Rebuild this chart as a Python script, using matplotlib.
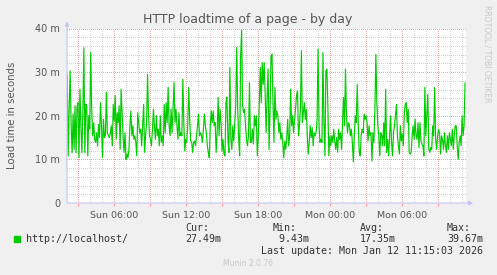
import numpy as np
import matplotlib
matplotlib.use('Agg')
from matplotlib import pyplot as plt
from matplotlib.patches import Rectangle

# http load time in milliseconds (roughly every 5 min), Sun ~02:06 .. Mon 11:15
load_ms = [
    29.3, 10.8, 22.0, 30.3, 18.0, 11.5, 20.4, 12.3, 22.3, 11.5, 21.9, 23.0, 10.4, 26.1, 17.7,
    11.5, 21.5, 35.6, 11.5, 22.7, 22.0, 10.8, 20.0, 17.0, 34.5, 21.5, 15.4, 18.4, 14.5, 13.9,
    16.1, 13.0, 18.0, 15.0, 23.0, 17.5, 10.4, 19.2, 15.0, 15.5, 25.4, 16.0, 15.5, 15.0, 16.0,
    17.7, 13.1, 22.6, 18.8, 24.6, 14.6, 20.7, 18.4, 22.3, 12.3, 26.1, 20.7, 15.4, 11.6, 16.1,
    10.0, 11.2, 10.4, 12.3, 17.7, 21.1, 15.4, 17.7, 14.6, 15.4, 13.9, 10.8, 20.7, 18.4, 16.1,
    16.9, 13.1, 17.7, 22.6, 11.6, 15.4, 18.4, 29.5, 20.0, 15.4, 14.6, 13.1, 16.9, 21.5, 17.7,
    14.6, 20.0, 15.4, 16.9, 13.1, 20.0, 13.9,
    15.4, 13.1, 22.6, 16.1, 23.0, 18.4, 26.5, 17.7, 15.4, 21.5, 16.1, 21.5, 27.6, 18.4, 21.5,
    17.7, 14.6, 20.7, 15.4, 16.1, 15.4, 28.4, 18.4, 11.9, 14.6, 13.9, 17.7, 26.5, 19.2, 14.2,
    13.9, 11.6, 13.9, 14.2, 13.1, 15.4, 17.7, 20.4, 15.4, 16.1, 15.4, 13.9, 16.9, 20.4, 17.7,
    16.1, 13.1, 11.6, 10.4, 17.7, 21.1, 18.4,
    21.1, 17.7, 18.4, 11.6, 16.1, 24.2, 15.4, 21.5, 18.4, 11.9, 14.6, 11.2, 10.8, 23.0, 24.2,
    14.6, 11.6, 31.1, 14.6, 12.3, 17.7, 14.2, 18.1, 22.3, 35.6, 21.5, 14.6, 10.8, 33.7, 39.67,
    22.3, 20.7, 21.5, 17.7, 14.6, 13.1, 15.4, 27.6, 13.9, 13.9, 16.9, 13.5, 20.0, 17.7, 20.0,
    10.8, 15.4, 22.3, 31.1, 23.0, 32.2, 27.2,
    32.2, 25.3, 16.1, 24.6, 30.7, 12.3, 21.5, 33.7, 34.1, 23.0, 13.9, 26.5, 19.2, 21.1, 20.0,
    16.1, 18.4, 14.6, 16.1, 13.9, 10.4, 14.2, 12.3, 14.6, 19.2, 13.1, 15.4, 26.1, 17.7, 20.0,
    16.1, 19.2, 21.5, 24.6, 25.7, 15.4, 17.7, 21.5, 34.9, 18.4, 20.7, 23.0, 19.2, 21.5, 15.4,
    11.2, 13.9, 17.7, 15.0, 17.3, 13.1, 16.1,
    15.4, 16.1, 19.2, 35.3, 17.7, 13.9, 14.6, 13.9, 34.5, 18.4, 10.8, 30.3, 30.7, 22.3, 10.8,
    15.4, 13.1, 15.4, 13.9, 16.9, 14.2, 12.3, 15.0, 11.6, 16.9, 14.6, 16.1, 12.3, 18.4, 24.2,
    17.7, 30.7, 20.0, 16.1, 18.4, 17.7, 15.4, 16.9, 13.9, 9.43, 15.4, 20.0, 18.4, 27.2, 18.4,
    11.6, 10.8, 15.4, 16.9, 16.1, 20.4, 19.2,
    20.0, 18.4, 14.2, 17.7, 15.4, 16.1, 9.6, 16.1, 13.9, 21.5, 34.1, 23.0, 17.7, 15.4, 10.8,
    16.1, 15.4, 13.1, 18.4, 13.1, 26.1, 11.6, 14.6, 10.8, 15.4, 20.0, 13.9, 10.8, 16.1, 17.7,
    20.0, 22.6, 15.4, 13.1, 11.2, 17.7, 14.2, 15.8, 13.1, 20.7, 22.6, 23.0, 18.4, 21.5, 11.6,
    11.2, 11.6, 15.4, 17.7, 14.6, 19.2, 15.4,
    14.6, 18.4, 12.7, 18.4, 14.2, 13.5, 13.1, 10.8, 26.5, 15.4, 20.0, 24.9, 12.3, 11.6, 12.7,
    12.3, 17.7, 15.4, 26.5, 14.6, 12.3, 15.4, 16.9, 16.1, 11.2, 15.4, 14.6, 12.3, 16.1, 13.1,
    11.6, 15.4, 12.3, 16.1, 14.6, 13.1, 16.9, 12.3, 15.4, 17.7, 17.7, 13.1, 10.0, 13.9, 15.4,
    13.1, 20.0, 15.4, 17.7, 27.49,
]
t_start, t_end = 2.1, 35.25  # hours since Sun 00:00
x_ticks = [6, 12, 18, 24, 30]
x_labels = ['Sun 06:00', 'Sun 12:00', 'Sun 18:00', 'Mon 00:00', 'Mon 06:00']
y_ticks = [0, 10, 20, 30, 40]
y_labels = ['0', '10 m', '20 m', '30 m', '40 m']
series_name = 'http://localhost/'
cur_txt, min_txt, avg_txt, max_txt = '27.49m', '9.43m', '17.35m', '39.67m'
last_update = 'Mon Jan 12 11:15:03 2026'

W, H = 497, 275
BG = '#f0f0f0'
GREEN = '#00cc00'
AXIS = '#c4c4f4'
TXT = '#555555'


def fx(px):
  return px / W


def fy(py):
  return 1 - py / H


fig = plt.figure(figsize=(W / 100, H / 100), dpi=100, facecolor=BG)
ax = fig.add_axes([fx(67), fy(203), 399 / W, 174.5 / H])
ax.set_facecolor('white')
ax.set_xlim(2.083, 35.33)
ax.set_ylim(0, 40)

# grid: gray every hour / 2m, red every 3h / 10m (crisp dotted)
dots = (0, (1, 1.5))
for h in range(3, 36):
  c = '#eaa8a8' if h % 3 == 0 else '#d2d2d2'
  ax.axvline(h, color=c, lw=0.72, ls=dots, zorder=1, antialiased=False)
for v in range(2, 41, 2):
  c = '#eaa8a8' if v % 10 == 0 else '#d2d2d2'
  ax.axhline(v, color=c, lw=0.72, ls=dots, zorder=1, antialiased=False)

t = np.linspace(t_start, t_end, len(load_ms))
ax.plot(t, load_ms, color=GREEN, lw=0.85, zorder=3)

for s in ax.spines.values():
  s.set_visible(False)
# axes with arrows like rrdtool
ax.annotate('', xy=(0, 1.04), xytext=(0, 0), xycoords='axes fraction',
            arrowprops=dict(arrowstyle='-|>', color=AXIS, lw=0.8, mutation_scale=6,
                            shrinkA=0, shrinkB=0), annotation_clip=False)
ax.annotate('', xy=(1.018, 0), xytext=(0, 0), xycoords='axes fraction',
            arrowprops=dict(arrowstyle='-|>', color=AXIS, lw=0.8, mutation_scale=6,
                            shrinkA=0, shrinkB=0), annotation_clip=False)

ax.set_xticks(x_ticks)
ax.set_xticklabels(x_labels)
ax.set_xticks(range(3, 36, 3), minor=True)
ax.tick_params(axis='x', which='both', length=2.5, width=0.7, color='#ee9090',
               labelsize=6.8, labelcolor=TXT, pad=3)
ax.set_yticks(y_ticks)
ax.set_yticklabels(y_labels)
ax.tick_params(axis='y', length=0, labelsize=7, labelcolor=TXT, pad=5)

fig.text(fx(248), fy(19), 'HTTP loadtime of a page - by day', ha='center', va='center',
         fontsize=9, color=TXT)
fig.text(fx(12), fy(115), 'Load time in seconds', rotation=90, ha='center', va='center',
         fontsize=7.3, color=TXT)
fig.text(fx(487), fy(5), 'RRDTOOL / TOBI OETIKER', rotation=270, ha='center', va='top',
         fontsize=5.5, color='#c8c8c8')

# legend block
mono = dict(family='DejaVu Sans Mono', fontsize=7.2, color='#333333', va='center')
fig.add_artist(Rectangle((fx(14), fy(242)), 6 / W, 6 / H, transform=fig.transFigure,
                         color=GREEN))
fig.text(fx(26), fy(239), series_name, **mono)
fig.text(fx(185), fy(228), 'Cur:', **mono)
fig.text(fx(185), fy(239), cur_txt, **mono)
fig.text(fx(273), fy(228), 'Min:', **mono)
fig.text(fx(273), fy(239), ' ' + min_txt, **mono)
fig.text(fx(360), fy(228), 'Avg:', **mono)
fig.text(fx(360), fy(239), avg_txt, **mono)
fig.text(fx(447), fy(228), 'Max:', **mono)
fig.text(fx(447), fy(239), max_txt, **mono)
fig.text(fx(483), fy(251.5), 'Last update: ' + last_update, ha='right', **mono)
fig.text(fx(248), fy(264), 'Munin 2.0.76', ha='center', va='center', fontsize=5.5,
         color='#c8c8c8')

fig.savefig('out.png', dpi=100, facecolor=BG)
